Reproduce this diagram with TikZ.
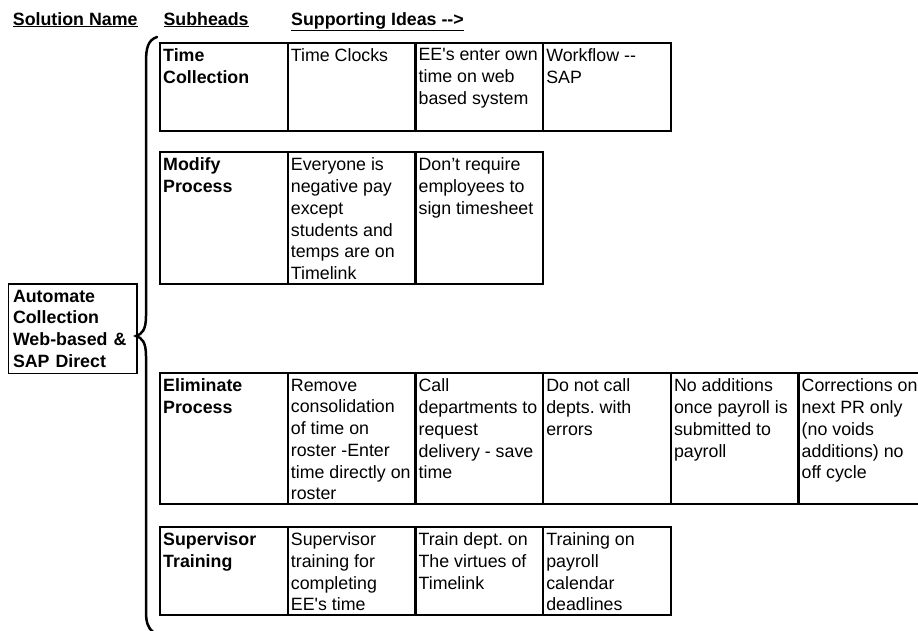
\documentclass[tikz,border=0pt]{standalone}
\usepackage{fontspec}
\setmainfont{Liberation Sans}
\usetikzlibrary{positioning}
\frenchspacing
\newcommand{\cellfont}{\fontsize{17.8}{21.7}\selectfont}
\tikzset{
  cellbox/.style={draw, line width=2.2pt, anchor=north west, inner sep=0pt, outer sep=0pt, minimum width=127.7pt, minimum height=#1},
  celltext/.style={anchor=north west, inner sep=0pt, align=left, font=\cellfont},
  subtext/.style={celltext, font=\cellfont\bfseries},
  head/.style={anchor=base west, inner sep=0pt, font=\cellfont\bfseries},
  rootbox/.style={draw, line width=1.6pt, anchor=north west, outer sep=0pt, inner xsep=4.7pt, inner ysep=0pt, text width=119pt, minimum height=89.3pt, align=left, font=\cellfont\bfseries},
  bracket/.style={line width=2.5pt, line cap=round}
}

\begin{document}
\begin{tikzpicture}[x=1pt, y=-1pt]
  \useasboundingbox (0,0) rectangle (918,630);

  % column heads
  \node[head] (hsol) at (12.7,25) {\underline{Solution Name}};
  \node[head] (hsub) at (163.3,25) {\underline{Subheads}};
  \node[head] (hsup) at (291,25) {\underline{Supporting Ideas -\kern0pt->}};

  % solution name
  \node[rootbox] (root) at (8.3,284) {Automate\\Collection\\Web-based \&\\SAP Direct};

  % time collection
  \node[cellbox=88pt] (tcs) at (160,42.7) {};
  \node[subtext] (tcst) at ([shift={(3pt,-5.5pt)}]tcs.north west) {Time\\Collection};
  \foreach \txt [count=\i] in {{Time Clocks}, {EE\textquotesingle s enter own\\time on web\\based system}, {Workflow -\kern0pt-\\SAP}} {
    \node[cellbox=88pt] (tc\i) at (160+127.7*\i,42.7) {};
    \node[celltext] (tct\i) at ([shift={(3pt,-5.5pt)}]tc\i.north west) {\txt};
  }

  % modify process
  \node[cellbox=131.7pt] (mps) at (160,152.3) {};
  \node[subtext] (mpst) at ([shift={(3pt,-5.5pt)}]mps.north west) {Modify\\Process};
  \foreach \txt [count=\i] in {{Everyone is\\negative pay\\except\\students and\\temps are on\\Timelink}, {Don’t require\\employees to\\sign timesheet}} {
    \node[cellbox=131.7pt] (mp\i) at (160+127.7*\i,152.3) {};
    \node[celltext] (mpt\i) at ([shift={(3pt,-5.5pt)}]mp\i.north west) {\txt};
  }

  % eliminate process
  \node[cellbox=130.7pt] (eps) at (160,373.3) {};
  \node[subtext] (epst) at ([shift={(3pt,-5.5pt)}]eps.north west) {Eliminate\\Process};
  \foreach \txt [count=\i] in {{Remove\\consolidation\\of time on\\roster -Enter\\time directly on\\roster}, {Call\\departments to\\request\\delivery - save\\time}, {Do not call\\depts. with\\errors}, {No additions\\once payroll is\\submitted to\\payroll}, {Corrections on\\next PR only\\(no voids\\additions) no\\off cycle}} {
    \node[cellbox=130.7pt] (ep\i) at (160+127.7*\i,373.3) {};
    \node[celltext] (ept\i) at ([shift={(3pt,-5.5pt)}]ep\i.north west) {\txt};
  }

  % supervisor training
  \node[cellbox=88pt] (sts) at (160,527) {};
  \node[subtext] (stst) at ([shift={(3pt,-5.5pt)}]sts.north west) {Supervisor\\Training};
  \foreach \txt [count=\i] in {{Supervisor\\training for\\completing\\EE\textquotesingle s time}, {Train dept. on\\The virtues of\\Timelink}, {Training on\\payroll\\calendar\\deadlines}} {
    \node[cellbox=88pt] (st\i) at (160+127.7*\i,527) {};
    \node[celltext] (stt\i) at ([shift={(3pt,-5.5pt)}]st\i.north west) {\txt};
  }

  % brace
  \coordinate (btop) at (157,37);
  \coordinate (btip) at (136,336);
  \coordinate (bbot) at (153,632);
  \draw[bracket] (btop) .. controls (148,40) and (146,48) .. (146,62) -- (146,316)
    .. controls (146,330) and (142,334) .. (btip)
    .. controls (142,338) and (146,342) .. (146,356) -- (146,612)
    .. controls (146,622) and (148,628) .. (bbot);
\end{tikzpicture}
\end{document}
